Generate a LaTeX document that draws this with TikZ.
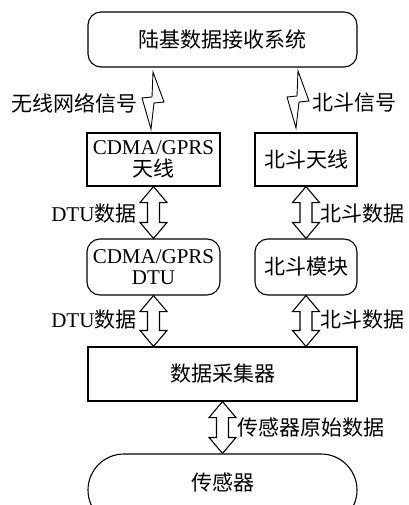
\documentclass[tikz,border=0pt]{standalone}
\usepackage{fontspec}
\setmainfont{Liberation Serif}
\newfontfamily\cjk{Noto Sans CJK SC}
\usetikzlibrary{calc}
\newcommand\vdarr[2]{%
  \draw[arr] let \p1=#1, \p2=#2 in
    (\x1,\y1) -- (\x1+13.5pt,\y1-16pt) -- (\x1+6pt,\y1-16pt) -- (\x1+6pt,\y2+16pt)
    -- (\x1+13.5pt,\y2+16pt) -- (\x1,\y2) -- (\x1-13.5pt,\y2+16pt) -- (\x1-6pt,\y2+16pt)
    -- (\x1-6pt,\y1-16pt) -- (\x1-13.5pt,\y1-16pt) -- cycle;}
\begin{document}
\begin{tikzpicture}[x=1pt,y=-1pt, line width=1.1pt,
  box/.style={draw, inner sep=0pt, align=center, font=\fontsize{21}{21.5}\selectfont},
  rbox/.style={box, rounded corners=13pt},
  lbl/.style={inner sep=0pt, font=\fontsize{21}{21}\selectfont},
  arr/.style={draw, line width=1.1pt, line join=miter},
  boltst/.style={draw, line width=0.9pt, line join=miter}]
\useasboundingbox (0,0) rectangle (408,505);
\clip (0,0) rectangle (408,505);

\node[rbox, minimum width=269pt, minimum height=55pt] (top) at (222.5,39.5) {\cjk 陆基数据接收系统};
\node[box, minimum width=133pt, minimum height=53pt] (ant) at (153.5,159.5) {CDMA/GPRS\\{\cjk 天线}};
\node[box, minimum width=102pt, minimum height=53pt] (bdant) at (306,159.5) {\cjk 北斗天线};
\node[rbox, minimum width=133pt, minimum height=56pt] (dtu) at (153.5,267) {CDMA/GPRS\\DTU};
\node[rbox, minimum width=102pt, minimum height=56pt] (bdmod) at (306,267) {\cjk 北斗模块};
\node[box, minimum width=269pt, minimum height=54pt] (coll) at (222.5,374) {\cjk 数据采集器};
\node[draw, rounded corners=36pt, minimum width=269pt, minimum height=72pt, inner sep=0pt] (sens) at (222.5,490) {};
\node[lbl] (senst) at (222.5,482) {\cjk 传感器};

\vdarr{(ant.south)}{(dtu.north)}
\vdarr{(bdant.south)}{(bdmod.north)}
\vdarr{(dtu.south)}{(dtu.south |- coll.north)}
\vdarr{(bdmod.south)}{(bdmod.south |- coll.north)}
\vdarr{(coll.south)}{(sens.north)}

\coordinate (b1) at (153,72);
\coordinate (b2) at (298,71);
\draw[boltst, shift={(b1)}] (0,0) -- (11,30) -- (1,31) -- (-2,57) -- (-11,26) -- (-1,25) -- cycle;
\draw[boltst, shift={(b2)}] (0,0) -- (11,30) -- (1,31) -- (-2,57) -- (-11,26) -- (-1,25) -- cycle;

\node[lbl, anchor=east] (l1) at (138,103) {\cjk 无线网络信号};
\node[lbl, anchor=west] (l2) at (312,103) {\cjk 北斗信号};
\node[lbl, anchor=east] (l3) at (137,214) {DTU{\cjk 数据}};
\node[lbl, anchor=east] (l4) at (137,320) {DTU{\cjk 数据}};
\node[lbl, anchor=west] (l5) at (320,214) {\cjk 北斗数据};
\node[lbl, anchor=west] (l6) at (320,320) {\cjk 北斗数据};
\node[lbl, anchor=west] (l7) at (237,428) {\cjk 传感器原始数据};
\end{tikzpicture}
\end{document}
